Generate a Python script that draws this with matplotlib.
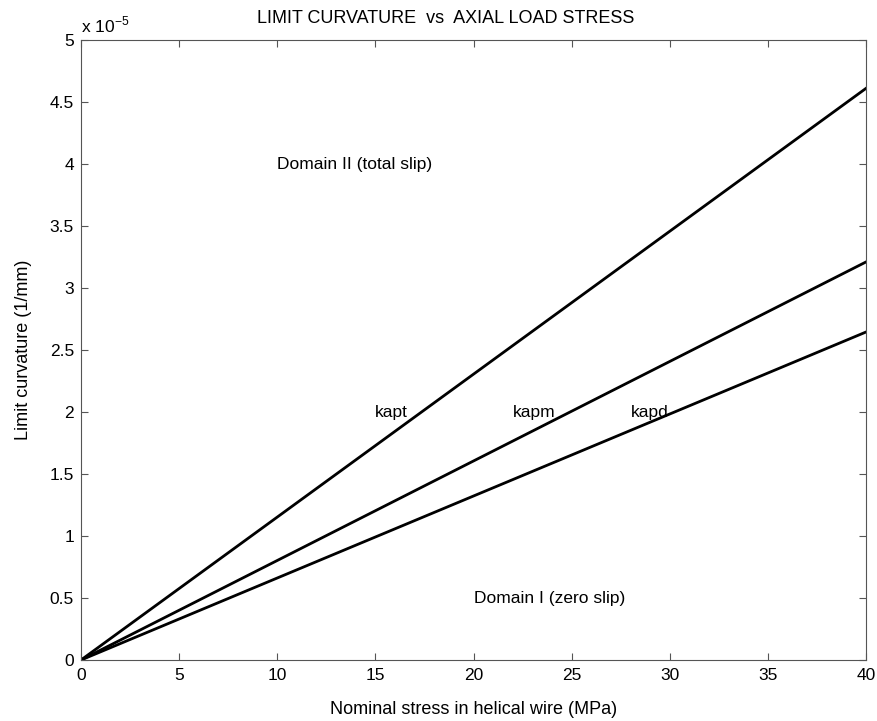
import numpy as np
import matplotlib.pyplot as plt
from matplotlib.ticker import FuncFormatter

plt.rcParams['font.family'] = ['Liberation Sans', 'DejaVu Sans']
plt.rcParams['mathtext.fontset'] = 'custom'
plt.rcParams['mathtext.rm'] = 'Liberation Sans'

# nominal stress (MPa) and limit curvatures (1/mm)
stress = [0, 40]
kapt = [0, 4.61e-5]
kapm = [0, 3.21e-5]
kapd = [0, 2.645e-5]

line_names = ['kapt', 'kapm', 'kapd']
label_x = [15, 22, 28]
label_y = [2e-5, 2e-5, 2e-5]

fs = 12.5

fig = plt.figure(figsize=(8.78, 7.21), dpi=100)
ax = fig.add_axes([81/878, 61/721, 785/878, 620/721])

for y in (kapt, kapm, kapd):
    ax.plot(stress, y, color='black', lw=2)

for name, xx, yy in zip(line_names, label_x, label_y):
    ax.text(xx, yy, name, fontsize=fs, va='center', ha='left')

ax.text(10, 4e-5, 'Domain II (total slip)', fontsize=fs, va='center')
ax.text(20, 0.5e-5, 'Domain I (zero slip)', fontsize=fs, va='center')

ax.set_xlim(0, 40)
ax.set_ylim(0, 5e-5)
ax.set_xticks(np.arange(0, 41, 5))
ax.set_yticks(np.arange(0, 5.01, 0.5) * 1e-5)
ax.yaxis.set_major_formatter(FuncFormatter(lambda v, p: '%g' % round(v / 1e-5, 2)))
ax.tick_params(direction='in', top=True, right=True, length=5, labelsize=12.5,
               color='#555555', pad=6)
ax.tick_params(axis='y', pad=5)
for s in ax.spines.values():
    s.set_color('#555555')

ax.text(0.0, 1.008, r'x 10$^{-5}$', transform=ax.transAxes, fontsize=fs,
        va='bottom', ha='left')

ax.set_title('LIMIT CURVATURE  vs  AXIAL LOAD STRESS', fontsize=13, pad=12, x=0.465)
ax.set_xlabel('Nominal stress in helical wire (MPa)', fontsize=13, labelpad=13)
ax.set_ylabel('Limit curvature (1/mm)', fontsize=13, labelpad=13)

fig.savefig('out.png', dpi=100)
